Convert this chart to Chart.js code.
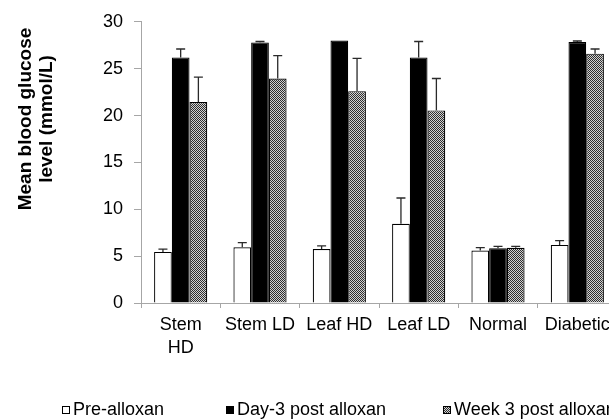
<!DOCTYPE html>
<html><head><meta charset="utf-8">
<script src="https://cdn.jsdelivr.net/npm/chart.js@4/dist/chart.umd.min.js"></script>
<style>
html,body{margin:0;padding:0;background:#fff;overflow:hidden;width:609px;height:420px;}
#wrap{position:absolute;left:0;top:0;width:640px;height:420px;}
</style></head><body>
<div id="wrap"><canvas id="c" width="640" height="420"></canvas></div>
<script>
const categories = [['Stem', 'HD'], 'Stem LD', 'Leaf HD', 'Leaf LD', 'Normal', 'Diabetic'];
const seriesNames = ['Pre-alloxan', 'Day-3 post alloxan', 'Week 3 post alloxan'];
const preAlloxan = [5.45, 5.95, 5.75, 8.45, 5.6, 6.2];
const preAlloxanErr = [0.3, 0.5, 0.35, 2.75, 0.3, 0.45];
const day3 = [26.2, 27.8, 28.0, 26.2, 5.85, 27.85];
const day3Err = [0.9, 0.1, 0, 1.7, 0.2, 0.1];
const week3 = [21.45, 23.95, 22.6, 20.55, 5.9, 26.6];
const week3Err = [2.65, 2.45, 3.5, 3.4, 0.15, 0.5];
const yTicks = [0, 5, 10, 15, 20, 25, 30];
const yTitle = ['Mean blood glucose', 'level (mmol/L)'];

const FONT = '"Liberation Sans", Arial, sans-serif';
Chart.defaults.font.family = FONT;
Chart.defaults.color = '#000';

function makePattern() {
  const p = document.createElement('canvas');
  p.width = 2; p.height = 2;
  const g = p.getContext('2d');
  g.fillStyle = '#d2d2d2'; g.fillRect(0, 0, 2, 2);
  g.fillStyle = '#2e2e2e'; g.fillRect(0, 0, 1, 1); g.fillRect(1, 1, 1, 1);
  return document.getElementById('c').getContext('2d').createPattern(p, 'repeat');
}
const pattern = makePattern();

const errorBars = {
  id: 'errorBars',
  afterDatasetsDraw(chart) {
    const ctx = chart.ctx, y = chart.scales.y;
    chart.data.datasets.forEach((ds, di) => {
      chart.getDatasetMeta(di).data.forEach((bar, i) => {
        const e = ds.errors[i];
        if (!e) return;
        const yt = y.getPixelForValue(ds.data[i] + e);
        ctx.save();
        ctx.strokeStyle = '#2a2a2a'; ctx.lineWidth = 1.3;
        ctx.beginPath();
        ctx.moveTo(bar.x, bar.y); ctx.lineTo(bar.x, yt);
        ctx.moveTo(bar.x - 4.5, yt); ctx.lineTo(bar.x + 4.5, yt);
        ctx.stroke();
        ctx.restore();
      });
    });
  }
};

const yTitlePlugin = {
  id: 'yTitlePlugin',
  afterDraw(chart) {
    const ctx = chart.ctx;
    ctx.save();
    ctx.translate(26, 119);
    ctx.rotate(-Math.PI / 2);
    ctx.font = 'bold 19px ' + FONT;
    ctx.fillStyle = '#000';
    ctx.textAlign = 'center';
    ctx.textBaseline = 'middle';
    yTitle.forEach((t, i) => ctx.fillText(t, 0, i * 21));
    ctx.restore();
  }
};

const legendX = [62, 226, 443];
const customLegend = {
  id: 'customLegend',
  afterDraw(chart) {
    const ctx = chart.ctx;
    ctx.save();
    ctx.font = '18px ' + FONT;
    ctx.textBaseline = 'middle';
    ctx.textAlign = 'left';
    const cy = 410;
    chart.data.datasets.forEach((ds, i) => {
      const x = legendX[i];
      ctx.fillStyle = ds.backgroundColor;
      ctx.fillRect(x, cy - 4, 8, 8);
      ctx.strokeStyle = '#000'; ctx.lineWidth = 1;
      ctx.strokeRect(x + 0.5, cy - 3.5, 7, 7);
      ctx.fillStyle = '#000';
      ctx.fillText(ds.label, x + 11, cy);
    });
    ctx.restore();
  }
};

const mk = (label, data, errors, bg) => ({
  label, data, errors, backgroundColor: bg, borderColor: '#000', borderWidth: 1.2,
  categoryPercentage: 0.67, barPercentage: 1.0
});

new Chart(document.getElementById('c'), {
  type: 'bar',
  data: {
    labels: categories,
    datasets: [
      mk(seriesNames[0], preAlloxan, preAlloxanErr, '#ffffff'),
      mk(seriesNames[1], day3, day3Err, '#000000'),
      mk(seriesNames[2], week3, week3Err, pattern)
    ]
  },
  options: {
    responsive: false,
    animation: false,
    devicePixelRatio: 1,
    layout: { padding: { left: 0, right: 23, top: 19, bottom: 57 } },
    plugins: { legend: { display: false }, tooltip: { enabled: false } },
    scales: {
      x: {
        afterFit: s => { s.height = 60; },
        grid: { drawOnChartArea: false, tickLength: 5, color: '#a6a6a6', offset: true },
        border: { color: '#a6a6a6', width: 1 },
        ticks: { font: { size: 18, lineHeight: 1.25 }, padding: 6, maxRotation: 0, autoSkip: false, color: '#000' }
      },
      y: {
        min: 0, max: 30,
        afterFit: s => { s.width = 141; },
        afterBuildTicks: s => { s.ticks = yTicks.map(v => ({ value: v })); },
        grid: { drawOnChartArea: false, tickLength: 7, color: '#a6a6a6' },
        border: { color: '#a6a6a6', width: 1 },
        ticks: { font: { size: 18 }, padding: 11, color: '#000' }
      }
    }
  },
  plugins: [errorBars, yTitlePlugin, customLegend]
});
</script>
</body></html>
